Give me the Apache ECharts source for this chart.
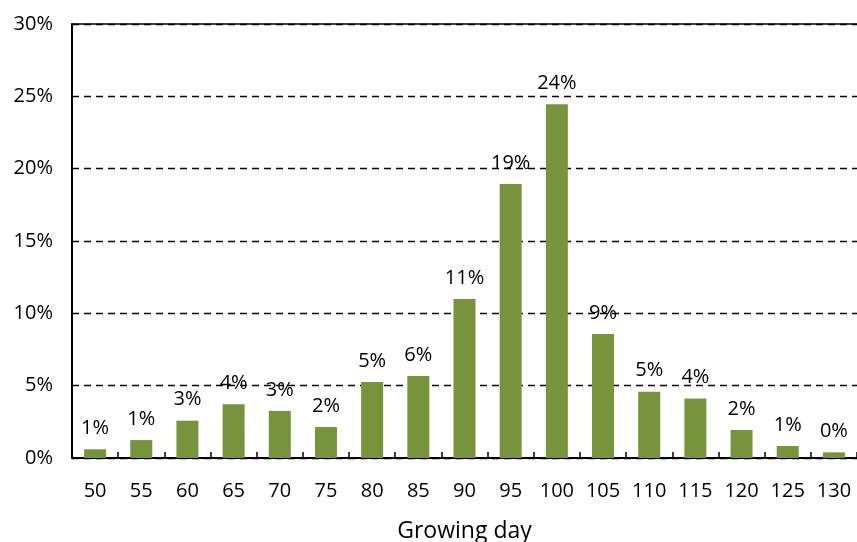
<!DOCTYPE html>
<html>
<head>
<meta charset="utf-8">
<script src="https://cdn.jsdelivr.net/npm/echarts@6/dist/echarts.min.js"></script>
<style>
  html, body { margin: 0; padding: 0; background: #fff; }
  #chart { width: 857px; height: 542px; }
</style>
</head>
<body>
<div id="chart"></div>
<script>
// Growing-day classes (days)
const growingDays = ['50', '55', '60', '65', '70', '75', '80', '85', '90', '95', '100', '105', '110', '115', '120', '125', '130'];
// Share of fields in each class (%)
const shares = [0.60, 1.24, 2.58, 3.71, 3.25, 2.14, 5.25, 5.67, 10.99, 18.94, 24.46, 8.57, 4.58, 4.12, 1.94, 0.83, 0.39];
// Value-axis ticks (%)
const yTicks = [0, 5, 10, 15, 20, 25, 30];

const FONT = 'Open Sans';
const chart = echarts.init(document.getElementById('chart'), null, { renderer: 'canvas' });

chart.setOption({
  animation: false,
  textStyle: { fontFamily: FONT, color: '#000' },
  grid: { left: 72, right: 0, top: 24, bottom: 84, containLabel: false, outerBoundsMode: 'none' },
  xAxis: [
    {
      type: 'category',
      data: growingDays,
      name: 'Growing day',
      nameLocation: 'middle',
      nameGap: 62,
      nameTextStyle: { fontFamily: FONT, fontSize: 23, color: '#000' },
      axisLine: { show: true, lineStyle: { color: '#000', width: 2 } },
      axisTick: { show: true, inside: true, length: 6, lineStyle: { color: '#000', width: 1.5 } },
      axisLabel: { fontFamily: FONT, fontSize: 20, color: '#000', margin: 23 },
      splitLine: { show: false }
    },
    {
      // top border of the plot area
      type: 'category',
      data: growingDays,
      position: 'top',
      axisLine: { show: true, lineStyle: { color: '#000', width: 1.5 } },
      axisTick: { show: false },
      axisLabel: { show: false },
      splitLine: { show: false }
    }
  ],
  yAxis: {
    type: 'value',
    min: yTicks[0],
    max: yTicks[yTicks.length - 1],
    interval: 5,
    axisLine: { show: true, lineStyle: { color: '#000', width: 2 } },
    axisTick: { show: false },
    axisLabel: { fontFamily: FONT, fontSize: 20, color: '#000', margin: 19, formatter: v => v + '%' },
    splitLine: { show: true, lineStyle: { color: '#000', width: 1.3, type: [7, 5] } }
  },
  series: [{
    type: 'bar',
    xAxisIndex: 0,
    data: shares,
    barWidth: 22,
    itemStyle: { color: '#77933C' },
    label: {
      show: true,
      position: 'top',
      distance: 11,
      fontFamily: FONT,
      fontSize: 20,
      color: '#000',
      formatter: p => Math.round(p.value) + '%'
    }
  }]
});
</script>
</body>
</html>
